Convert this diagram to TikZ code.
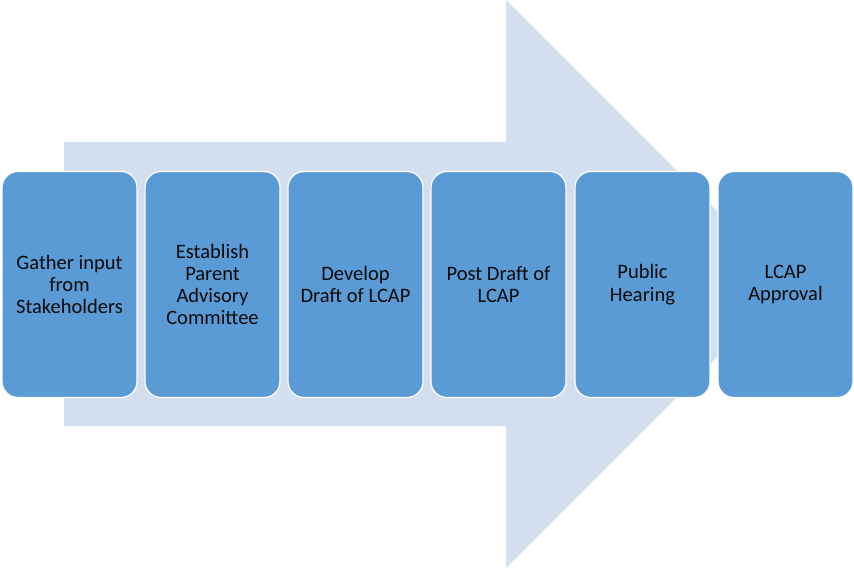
\documentclass[tikz,border=0pt]{standalone}
\usepackage{fontspec}
\setmainfont{Carlito}
\definecolor{arrowfill}{RGB}{211,222,239}
\definecolor{boxfill}{RGB}{91,155,213}
\definecolor{boxtext}{RGB}{10,10,10}
\begin{document}
\begin{tikzpicture}[x=1pt,y=-1pt,
  stepbox/.style={draw=white,line width=1.2pt,fill=boxfill,rounded corners=16pt,
    minimum width=135pt,minimum height=226pt,inner sep=1pt,
    text width=131pt,align=flush center,text=boxtext,
    font=\fontsize{20.5}{22.3}\selectfont,anchor=center}]
\useasboundingbox (0,0) rectangle (854,568);
\fill[arrowfill] (64,142) -- (506,142) -- (506,0) -- (790,284) -- (506,568) -- (506,426) -- (64,426) -- cycle;
\node[stepbox] (s1) at (69.5,284.5) {Gather input\\from\\Stakeholders};
\node[stepbox] (s2) at (212.5,284.5) {Establish\\Parent\\Advisory\\Committee};
\node[stepbox] (s3) at (355.5,284.5) {Develop\\Draft of LCAP};
\node[stepbox] (s4) at (498.5,284.5) {Post Draft of\\LCAP};
\node[stepbox] (s5) at (642.5,284.5) {Public\\Hearing};
\node[stepbox] (s6) at (785.5,284.5) {LCAP\\Approval};
\end{tikzpicture}
\end{document}
